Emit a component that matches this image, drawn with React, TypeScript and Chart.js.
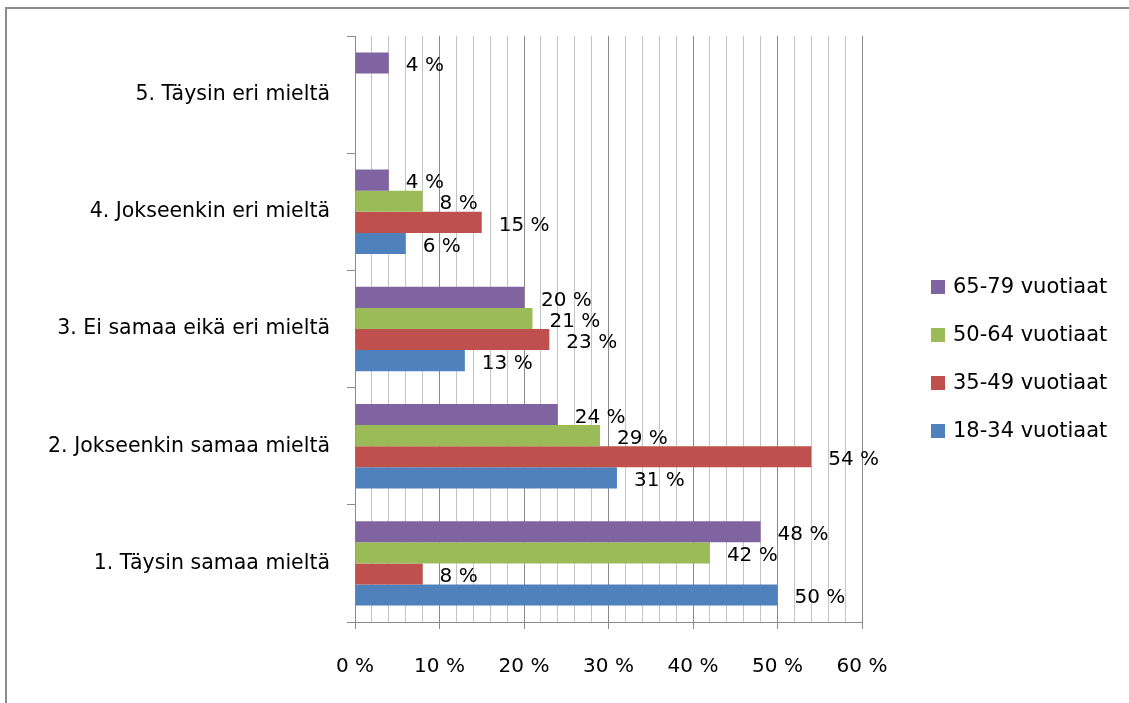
import { useEffect, useRef } from 'react';
import { Chart, registerables } from 'chart.js';

Chart.register(...registerables);

const categories = [
  '5. Täysin eri mieltä',
  '4. Jokseenkin eri mieltä',
  '3. Ei samaa eikä eri mieltä',
  '2. Jokseenkin samaa mieltä',
  '1. Täysin samaa mieltä',
];
const seriesNames = ['65-79 vuotiaat', '50-64 vuotiaat', '35-49 vuotiaat', '18-34 vuotiaat'];
const values6579 = [4, 4, 20, 24, 48];
const values5064 = [null, 8, 21, 29, 42];
const values3549 = [null, 15, 23, 54, 8];
const values1834 = [null, 6, 13, 31, 50];
const seriesColors = ['#8064A2', '#9BBB59', '#C0504D', '#4F81BD'];
const xMin = 0;
const xMax = 60;
const xStep = 2;
const xLabelEvery = 10;

const FONT = '"DejaVu Sans", sans-serif';

const valueLabels = {
  id: 'valueLabels',
  afterDatasetsDraw(chart: any) {
    const ctx = chart.ctx;
    ctx.save();
    ctx.font = `20px ${FONT}`;
    ctx.fillStyle = '#000';
    ctx.textAlign = 'left';
    ctx.textBaseline = 'middle';
    chart.data.datasets.forEach((ds: any, i: number) => {
      const meta = chart.getDatasetMeta(i);
      meta.data.forEach((bar: any, j: number) => {
        const v = ds.data[j];
        if (v === null || v === undefined) return;
        ctx.fillText(`${v} %`, bar.x + 17, bar.y + 3);
      });
    });
    ctx.restore();
  },
};

const sideLegend = {
  id: 'sideLegend',
  afterDraw(chart: any) {
    const ctx = chart.ctx;
    ctx.save();
    ctx.font = `21px ${FONT}`;
    ctx.textAlign = 'left';
    ctx.textBaseline = 'middle';
    chart.data.datasets.forEach((ds: any, i: number) => {
      const y = 287 + i * 48;
      ctx.fillStyle = ds.backgroundColor;
      ctx.fillRect(931, y - 7, 14, 14);
      ctx.fillStyle = '#000';
      ctx.fillText(ds.label, 953, y + 1);
    });
    ctx.restore();
  },
};

export default function App() {
  const ref = useRef<HTMLCanvasElement | null>(null);

  useEffect(() => {
    document.body.style.margin = '0';
    const canvas = ref.current;
    if (!canvas) return;
    const seriesValues = [values6579, values5064, values3549, values1834];
    const chart = new Chart(canvas, {
      type: 'bar',
      data: {
        labels: categories,
        datasets: seriesNames.map((name, i) => ({
          label: name,
          data: seriesValues[i],
          backgroundColor: seriesColors[i],
          borderWidth: 0,
          categoryPercentage: 0.72,
          barPercentage: 1.0,
        })),
      },
      options: {
        indexAxis: 'y',
        responsive: false,
        animation: false,
        devicePixelRatio: 1,
        layout: { padding: { top: 36, right: 267, bottom: 0, left: 0 } },
        plugins: {
          legend: { display: false },
          tooltip: { enabled: false },
        },
        scales: {
          x: {
            type: 'linear',
            position: 'bottom',
            min: xMin,
            max: xMax,
            ticks: {
              stepSize: xStep,
              autoSkip: false,
              maxRotation: 0,
              color: '#000',
              font: { family: FONT, size: 20 },
              padding: 26,
              callback: (v: any) => (Number(v) % xLabelEvery === 0 ? `${v} %` : ''),
            },
            grid: {
              color: (c: any) => (c.tick && c.tick.value % xLabelEvery === 0 ? '#8a8a8a' : '#c4c4c4'),
              tickColor: (c: any) => (c.tick && c.tick.value % xLabelEvery === 0 ? '#8a8a8a' : 'rgba(0,0,0,0)'),
              tickLength: 7,
              lineWidth: 1,
            },
            border: { color: '#8a8a8a' },
            afterFit: (s: any) => {
              s.height = 81;
            },
          },
          y: {
            type: 'category',
            ticks: {
              color: '#000',
              font: { family: FONT, size: 20.5 },
              padding: 17,
            },
            grid: {
              drawOnChartArea: false,
              drawTicks: true,
              tickLength: 8,
              color: '#8a8a8a',
              offset: true,
            },
            border: { color: '#8a8a8a' },
            afterFit: (s: any) => {
              s.width = 355;
            },
          },
        },
      },
      plugins: [valueLabels, sideLegend],
    } as any);
    return () => chart.destroy();
  }, []);

  return (
    <div style={{ position: 'relative', width: 1129, height: 703, overflow: 'hidden', background: '#fff' }}>
      <div
        style={{
          position: 'absolute',
          left: 5,
          top: 7,
          width: 3000,
          height: 3000,
          borderLeft: '2px solid #8c8c8c',
          borderTop: '2px solid #8c8c8c',
        }}
      />
      <canvas ref={ref} width={1129} height={703} style={{ position: 'absolute', left: 0, top: 0 }} />
    </div>
  );
}
